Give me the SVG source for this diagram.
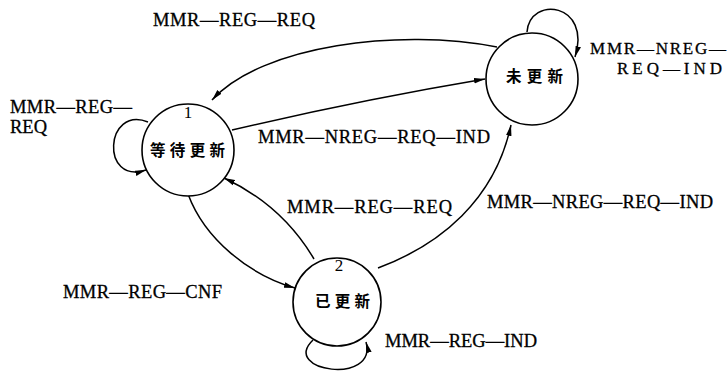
<svg xmlns="http://www.w3.org/2000/svg" width="727" height="373" viewBox="0 0 727 373">
<style>
.node{fill:#fff;stroke:#000;stroke-width:1.6}
.edge{fill:none;stroke:#000;stroke-width:1.5;marker-end:url(#arr)}
.lbl{font-family:"Liberation Serif","Times New Roman",serif;font-size:18.5px;fill:#000;stroke:#000;stroke-width:0.3}
.sm{font-size:17px}
.num{font-family:"Liberation Serif","Times New Roman",serif;font-size:17px;fill:#000;text-anchor:middle}
.cn{font-family:"Noto Sans CJK SC","Noto Sans CJK JP",sans-serif;font-size:15.5px;font-weight:bold;fill:#000}
</style>
<defs>
<marker id="arr" markerWidth="12" markerHeight="8" refX="11" refY="4" orient="auto" markerUnits="userSpaceOnUse">
<path d="M0,1.2 L11,4 L0,6.8 Z" fill="#000"/>
</marker>
</defs>
<rect width="727" height="373" fill="#fff"/>
<g id="connectors">
<path class="edge" d="M497 47 C400 28, 262 45, 212 100"/>
<path class="edge" d="M232 130 Q360 100 485 79"/>
<path class="edge" d="M314 259 Q282 205 224 178"/>
<path class="edge" d="M188 194 C205 240, 250 275, 295 288"/>
<path class="edge" d="M378 268 C440 245, 495 200, 511 125"/>
<path class="edge" d="M148 122 C105 105, 100 185, 146 170"/>
<path class="edge" d="M527 32 C530 -5, 592 3, 575 57"/>
<path class="edge" d="M313 340 C280 372, 378 385, 366 342"/>
</g>
<g id="node-waiting">
<circle class="node" cx="188" cy="150" r="46"/>
<text class="num" x="188" y="118">1</text>
<text class="cn" x="150" y="156" textLength="75">等待更新</text>
</g>
<g id="node-not-updated">
<circle class="node" cx="532" cy="79" r="46"/>
<text class="cn" x="506" y="82" textLength="57">未更新</text>
</g>
<g id="node-updated">
<circle class="node" cx="337" cy="302" r="44"/>
<text class="num" x="339" y="271">2</text>
<text class="cn" x="315" y="307" textLength="55">已更新</text>
</g>
<g id="labels">
<text class="lbl" x="153" y="26" textLength="162">MMR—REG—REQ</text>
<text class="lbl" x="10" y="113" textLength="122">MMR—REG—</text>
<text class="lbl" x="10" y="133">REQ</text>
<text class="lbl" x="258" y="143" textLength="232">MMR—NREG—REQ—IND</text>
<text class="lbl sm" x="590" y="54" textLength="136">MMR—NREG—</text>
<text class="lbl sm" x="617" y="74" textLength="105">REQ—IND</text>
<text class="lbl" x="287" y="213" textLength="165">MMR—REG—REQ</text>
<text class="lbl" x="487" y="208" textLength="226">MMR—NREG—REQ—IND</text>
<text class="lbl" x="63" y="298" textLength="159">MMR—REG—CNF</text>
<text class="lbl" x="385" y="347" textLength="152">MMR—REG—IND</text>
</g>
</svg>
